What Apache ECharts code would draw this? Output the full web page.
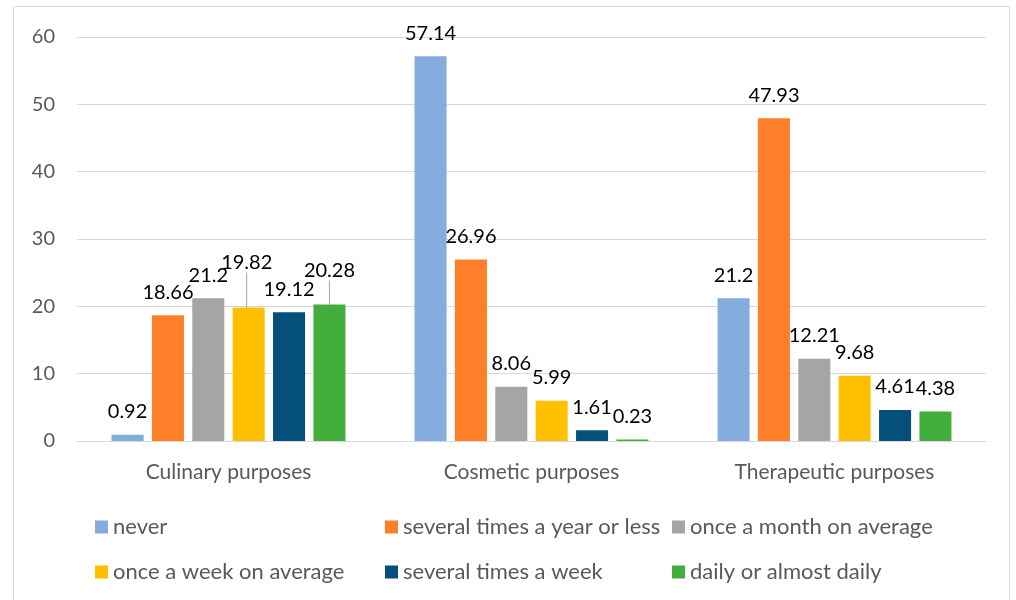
<!DOCTYPE html>
<html>
<head>
<meta charset="utf-8">
<script src="https://cdn.jsdelivr.net/npm/echarts@6/dist/echarts.min.js"></script>
<style>
  html, body { margin: 0; padding: 0; background: #fff; }
  #main { width: 1016px; height: 600px; }
</style>
</head>
<body>
<div id="main"></div>
<script>
// categories and series
var purposes = ['Culinary purposes', 'Cosmetic purposes', 'Therapeutic purposes'];
var seriesNames = ['never', 'several times a year or less', 'once a month on average',
                   'once a week on average', 'several times a week', 'daily or almost daily'];
var never      = [0.92, 57.14, 21.2];
var yearOrLess = [18.66, 26.96, 47.93];
var monthly    = [21.2, 8.06, 12.21];
var weekly     = [19.82, 5.99, 9.68];
var severalWk  = [19.12, 1.61, 4.61];
var daily      = [20.28, 0.23, 4.38];
var yTicks     = [0, 10, 20, 30, 40, 50, 60];

var allData = [never, yearOrLess, monthly, weekly, severalWk, daily];
var colors = ['#84ACDD', '#FD7F2A', '#A5A5A5', '#FFC000', '#044F7C', '#43AE3B'];

// labels pushed up with a leader line (series index -> data index -> shift)
var moved = {
  3: {0: {dx: -2, dy: -22}},
  5: {0: {dx: 0, dy: -11}}
};

var font = 'Lato';

var chart = echarts.init(document.getElementById('main'));

var series = seriesNames.map(function (name, i) {
  var data = allData[i].map(function (v, j) {
    if (moved[i] && moved[i][j]) {
      return { value: v, labelLine: { show: true } };
    }
    return v;
  });
  return {
    name: name,
    type: 'bar',
    data: data,
    barGap: '26%',
    barCategoryGap: '22.8%',
    itemStyle: { color: colors[i] },
    label: {
      show: true,
      position: 'top',
      distance: 13,
      color: '#000',
      fontFamily: font,
      fontSize: 20
    },
    labelLine: {
      show: false,
      lineStyle: { color: '#a6a6a6', width: 1 }
    },
    labelLayout: function (p) {
      var m = moved[i] && moved[i][p.dataIndex];
      return m ? { dx: m.dx, dy: m.dy } : {};
    }
  };
});

// two legend rows laid out in three columns
var legendCols = [90, 380, 667];
var legends = [];
seriesNames.forEach(function (name, i) {
  legends.push({
    data: [name],
    left: legendCols[i % 3],
    top: i < 3 ? 511 : 556,
    itemWidth: 13,
    itemHeight: 13,
    itemGap: 0,
    icon: 'rect',
    textStyle: { color: '#595959', fontFamily: font, fontSize: 22 },
    selectedMode: false
  });
});

chart.setOption({
  animation: false,
  color: colors,
  graphic: [{
    type: 'rect',
    shape: { x: 13.5, y: 6.5, width: 996, height: 600 },
    style: { fill: 'none', stroke: '#d9d9d9', lineWidth: 1 }
  }],
  grid: { left: 77, right: 30, top: 37, bottom: 159 },
  legend: legends,
  xAxis: {
    type: 'category',
    data: purposes,
    axisTick: { show: false },
    axisLine: { lineStyle: { color: '#d9d9d9' } },
    axisLabel: { color: '#595959', fontFamily: font, fontSize: 21, margin: 21 }
  },
  yAxis: {
    type: 'value',
    min: yTicks[0],
    max: yTicks[yTicks.length - 1],
    interval: 10,
    axisLine: { show: false },
    axisTick: { show: false },
    splitLine: { lineStyle: { color: '#d9d9d9' } },
    axisLabel: { color: '#595959', fontFamily: font, fontSize: 20, margin: 22 }
  },
  series: series
});
</script>
</body>
</html>
